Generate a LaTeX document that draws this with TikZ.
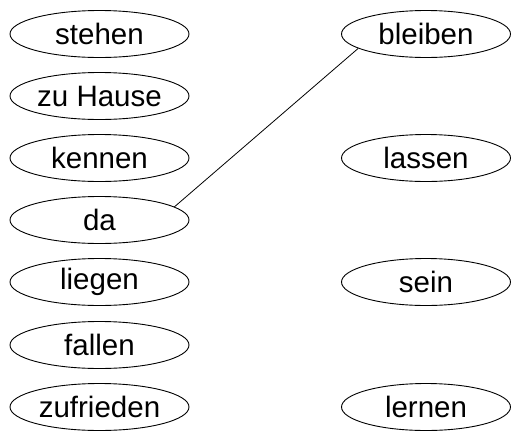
\documentclass[tikz,border=0pt]{standalone}
\usepackage{fontspec}
\setmainfont{Liberation Sans}
\usetikzlibrary{shapes.geometric}
\tikzset{
  word/.style={draw, ellipse, line width=0.9pt, inner sep=0pt,
    minimum height=47pt, font=\fontsize{29.5}{33}\selectfont},
  leftword/.style={word, minimum width=179pt},
  rightword/.style={word, minimum width=169pt},
  link/.style={draw, line width=0.8pt}
}
\begin{document}
\begin{tikzpicture}[x=1pt,y=-1pt]
  \useasboundingbox (0,0) rectangle (512,432);
  % left column
  \node[leftword] (stehen)    at (99.5,34)  {stehen};
  \node[leftword] (zuhause)   at (99.5,96)  {zu Hause};
  \node[leftword] (kennen)    at (99.5,158) {kennen};
  \node[leftword] (da)        at (99.5,220) {da};
  \node[leftword] (liegen)    at (99.5,282) {liegen};
  \node[leftword] (fallen)    at (99.5,345) {fallen};
  \node[leftword] (zufrieden) at (99.5,407) {zufrieden};
  % right column
  \node[rightword] (bleiben) at (426,34)  {bleiben};
  \node[rightword] (lassen)  at (426,158) {lassen};
  \node[rightword] (sein)    at (426,282) {sein};
  \node[rightword] (lernen)  at (426,407) {lernen};
  % connection
  \draw[link] (da.10) -- (bleiben.192);
\end{tikzpicture}
\end{document}
